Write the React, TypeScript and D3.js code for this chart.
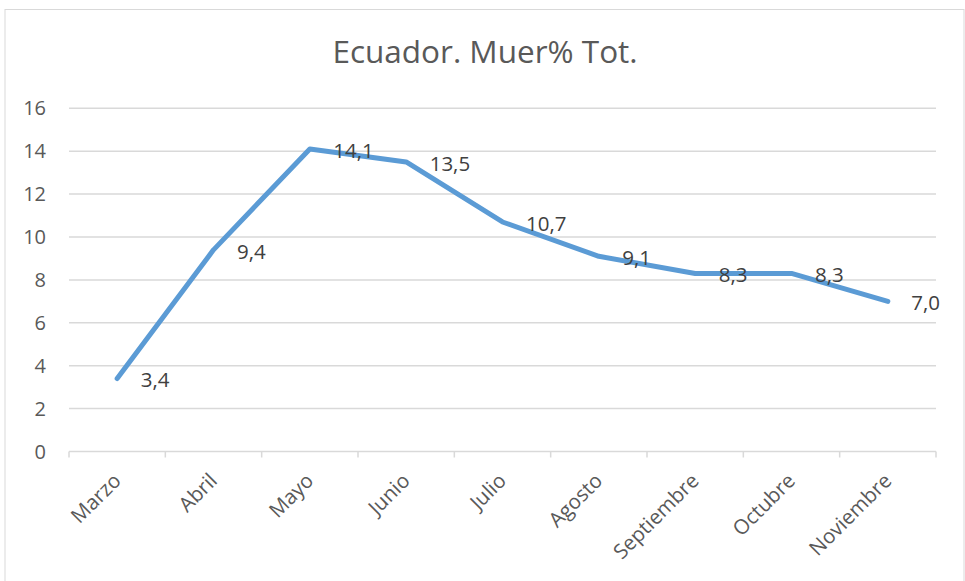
import { line, scaleBand, scaleLinear } from "d3";

const months = ["Marzo", "Abril", "Mayo", "Junio", "Julio", "Agosto", "Septiembre", "Octubre", "Noviembre"];
const muerPct = [3.4, 9.4, 14.1, 13.5, 10.7, 9.1, 8.3, 8.3, 7.0];
const yTicks = [0, 2, 4, 6, 8, 10, 12, 14, 16];
const chartTitle = "Ecuador. Muer% Tot.";

function formatValue(value: number) {
  return value.toFixed(1).replace(".", ",");
}

export default function App() {
  const width = 965;
  const height = 581;
  const plot = { left: 69, right: 936, top: 108.3, bottom: 451.5 };
  const font = "'Open Sans', 'Noto Sans', sans-serif";

  const xScale = scaleBand<string>().domain(months).range([plot.left, plot.right]);
  const half = xScale.bandwidth() / 2;
  const yScale = scaleLinear().domain([0, 16]).range([plot.bottom, plot.top]);

  const points = months.map((m, i) => ({ month: m, value: muerPct[i] }));
  const path = line<{ month: string; value: number }>()
    .x((d) => (xScale(d.month) ?? 0) + half)
    .y((d) => yScale(d.value))(points);

  const tickXs = [...months.map((m) => xScale(m) ?? 0), plot.right];

  return (
    <svg
      width={width}
      height={height}
      viewBox={`0 0 ${width} ${height}`}
      style={{ position: "absolute", left: 0, top: 0, background: "#fff" }}
    >
      <rect x={5} y={9.5} width={959} height={600} fill="#fff" stroke="#d9d9d9" strokeWidth="1" />

      <text x={485} y={63} textAnchor="middle" fontFamily={font} fontSize={31.5} fill="#595959">
        {chartTitle}
      </text>

      {yTicks.map((tick) => (
        <g key={tick}>
          {tick > 0 ? (
            <line x1={plot.left} x2={plot.right} y1={yScale(tick)} y2={yScale(tick)} stroke="#d9d9d9" strokeWidth="1.5" />
          ) : null}
          <text x={46} y={yScale(tick) + 7} textAnchor="end" fontFamily={font} fontSize={20} fill="#595959">
            {tick}
          </text>
        </g>
      ))}

      <line x1={plot.left} x2={plot.right} y1={plot.bottom} y2={plot.bottom} stroke="#d9d9d9" strokeWidth="1.5" />
      {tickXs.map((x, i) => (
        <line key={i} x1={x} x2={x} y1={plot.bottom} y2={plot.bottom + 6} stroke="#d9d9d9" strokeWidth="1.5" />
      ))}

      {months.map((m) => {
        const cx = (xScale(m) ?? 0) + half + 5;
        const cy = 482;
        return (
          <text
            key={m}
            x={cx}
            y={cy}
            transform={`rotate(-45, ${cx}, ${cy})`}
            textAnchor="end"
            fontFamily={font}
            fontSize={20.5}
            fill="#595959"
          >
            {m}
          </text>
        );
      })}

      <path d={path ?? ""} fill="none" stroke="#5b9bd5" strokeWidth="5" strokeLinejoin="round" strokeLinecap="round" />

      {points.map((d) => (
        <text
          key={d.month}
          x={(xScale(d.month) ?? 0) + half + 23.5}
          y={yScale(d.value) + 8.7}
          fontFamily={font}
          fontSize={20.5}
          fill="#404040"
        >
          {formatValue(d.value)}
        </text>
      ))}
    </svg>
  );
}
